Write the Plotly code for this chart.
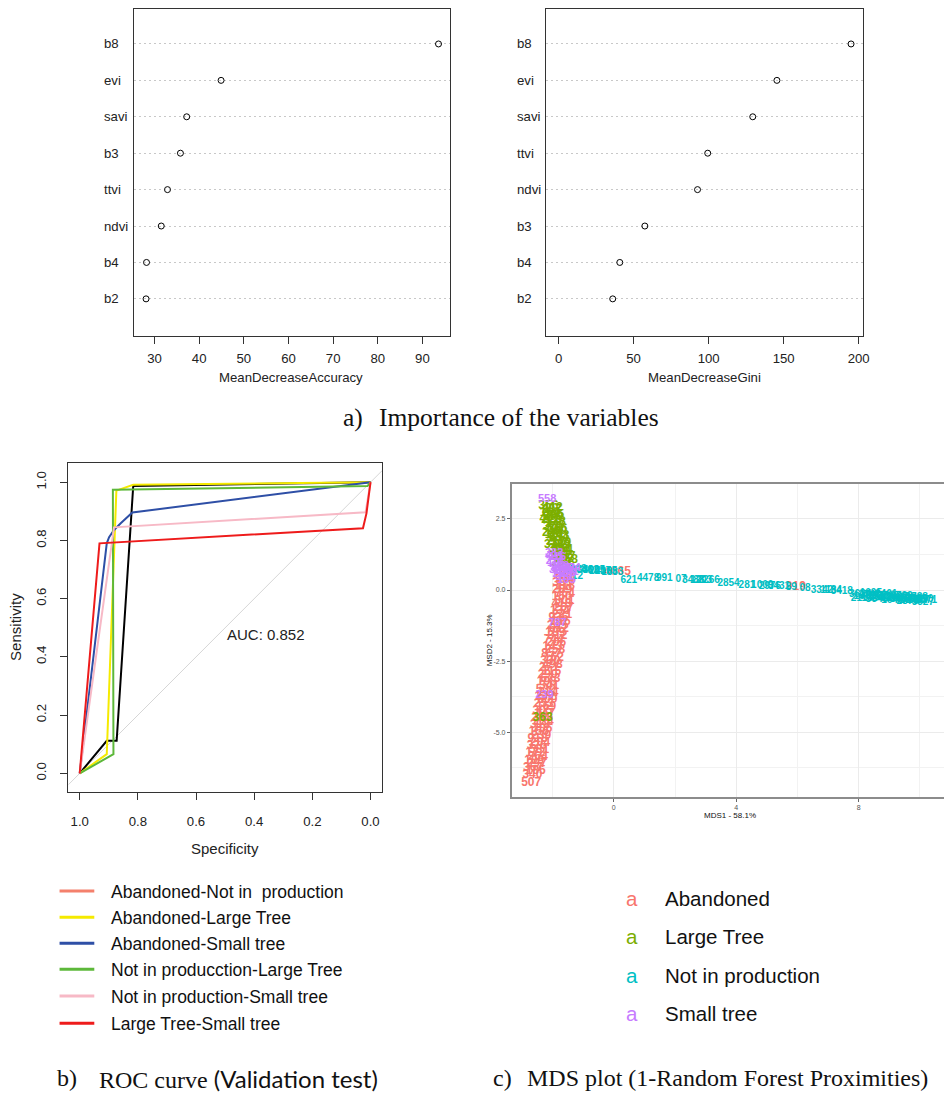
import plotly.graph_objects as go

W, H = 951, 1095
SANS = "Liberation Sans, Arial, sans-serif"
SERIF = "Liberation Serif, Times New Roman, serif"
CAL = "Lato, Carlito, sans-serif"


def px(x):
    return x / W


def py(y):
    return 1 - y / H


# ---------------- a) Importance of the variables ----------------
acc_vars = ["b2", "b4", "ndvi", "ttvi", "b3", "savi", "evi", "b8"]
acc_vals = [28.1, 28.2, 31.5, 32.9, 35.8, 37.2, 44.9, 93.6]
acc_ticks = [30, 40, 50, 60, 70, 80, 90]

gini_vars = ["b2", "b4", "b3", "ndvi", "ttvi", "savi", "evi", "b8"]
gini_vals = [36.1, 40.8, 57.5, 92.6, 99.4, 129.4, 145.5, 194.9]
gini_ticks = [0, 50, 100, 150, 200]

# ---------------- b) ROC curves ----------------
roc_labels = ["Abandoned-Not in\u00a0 production", "Abandoned-Large Tree", "Abandoned-Small tree",
              "Not in producction-Large Tree", "Not in production-Small tree", "Large Tree-Small tree"]
spec_ab_np = [1.0, 0.907, 0.873, 0.816, 0.0]
sens_ab_np = [0.0, 0.112, 0.112, 0.987, 1.0]
spec_ab_lt = [1.0, 0.907, 0.874, 0.816, 0.0]
sens_ab_lt = [0.0, 0.066, 0.971, 0.991, 1.0]
spec_ab_st = [1.0, 0.907, 0.899, 0.882, 0.859, 0.836, 0.819, 0.0]
sens_ab_st = [0.0, 0.790, 0.811, 0.836, 0.859, 0.882, 0.896, 1.0]
spec_np_lt = [1.0, 0.884, 0.886, 0.010, 0.0]
sens_np_lt = [0.0, 0.066, 0.974, 0.987, 1.0]
spec_np_st = [1.0, 0.882, 0.017, 0.0]
sens_np_st = [0.0, 0.845, 0.897, 1.0]
spec_lt_st = [1.0, 0.932, 0.026, 0.014, 0.0]
sens_lt_st = [0.0, 0.790, 0.842, 0.893, 1.0]
roc_curve_colors = ["#000000", "#F5EA00", "#2E4FA6", "#5DB83A", "#F7B9C6", "#EE1B1B"]
roc_legend_colors = ["#F4806C", "#F5EA00", "#2E4FA6", "#5DB83A", "#F7B9C6", "#EE1B1B"]
roc_ticks = [1.0, 0.8, 0.6, 0.4, 0.2, 0.0]
diag_spec = [1.04, -0.04]
auc_text = "AUC: 0.852"

# ---------------- c) MDS plot ----------------
mds_classes = ["Abandoned", "Large Tree", "Not in production", "Small tree"]
mds_colors = ["#F8766D", "#7CAE00", "#00BFC4", "#C77CFF"]

ab_x = [-1.67, -1.58, -1.68, -1.59, -1.69, -1.60, -1.70, -1.61, -1.71, -1.64,
        -1.76, -1.69, -1.81, -1.74, -1.86, -1.79, -1.91, -1.84, -1.96, -1.88,
        -2.00, -1.92, -2.04, -1.96, -2.08, -2.00, -2.12, -2.04, -2.16, -2.07,
        -2.19, -2.11, -2.22, -2.14, -2.26, -2.17, -2.29, -2.21, -2.33, -2.25,
        -2.37, -2.29, -2.41, -2.33, -2.45, -2.37, -2.49, -2.41, -2.52, -2.44,
        -2.56, -2.48, -2.60, -2.52, -2.64, -2.55, -2.66, -2.70, 0.12, 5.95]
ab_y = [0.500, 0.375, 0.250, 0.125, 0.000, -0.125, -0.250, -0.375, -0.500, -0.625,
        -0.750, -0.875, -1.000, -1.125, -1.250, -1.375, -1.500, -1.625, -1.750, -1.875,
        -2.000, -2.125, -2.250, -2.375, -2.500, -2.625, -2.750, -2.875, -3.000, -3.125,
        -3.250, -3.375, -3.500, -3.625, -3.750, -3.875, -4.000, -4.125, -4.250, -4.375,
        -4.500, -4.625, -4.750, -4.875, -5.000, -5.125, -5.250, -5.375, -5.500, -5.625,
        -5.750, -5.875, -6.000, -6.125, -6.250, -6.375, -6.500, -6.800, 0.64, 0.09]
ab_lab = ["102", "234", "305", "118", "289", "764", "150", "301", "418", "267",
          "134", "221", "936", "176", "245", "612", "189", "312", "744", "206",
          "143", "258", "857", "162", "330", "498", "271", "115", "290", "673",
          "198", "341", "532", "224", "137", "809", "253", "169", "305", "447",
          "281", "124", "318", "706", "156", "239", "918", "204", "326", "581",
          "172", "264", "109", "297", "367", "185", "340", "507", "4065", "919"]

lt_x = [-2.14, -2.03, -2.09, -1.98, -2.04, -1.91, -1.99, -1.86, -1.93, -1.80,
        -1.88, -1.75, -1.82, -1.69, -1.77, -1.64, -1.71, -1.50, -2.32,
        -2.00, -1.95, -1.90, -1.84, -1.78, -1.72, -1.66, -1.58, -2.10, -2.02, -1.95]
lt_y = [2.950, 2.825, 2.700, 2.575, 2.450, 2.325, 2.200, 2.075, 1.950, 1.825,
        1.700, 1.575, 1.450, 1.325, 1.200, 1.075, 0.950, 1.050, -4.51,
        2.90, 2.65, 2.40, 2.15, 1.90, 1.65, 1.40, 1.15, 2.50, 2.00, 1.60]
lt_lab = ["356", "287", "164", "309", "223", "147", "371", "260", "181", "334",
          "256", "139", "348", "201", "176", "322", "298", "158", "363",
          "412", "295", "178", "366", "243", "319", "154", "287", "401", "225", "338"]

np_x = [-1.25, -1.19, -1.05, -0.85, -0.65, -0.45, -0.25, -0.05,
        0.49, 1.12, 1.65, 2.20, 2.60, 2.85, 3.10, 3.75, 4.35, 4.85, 5.10, 5.40,
        5.80, 6.25, 6.80, 7.10, 7.45,
        8.05, 8.20, 8.35, 8.50, 8.65, 8.80, 8.95, 9.10, 9.25, 9.40, 9.55, 9.70, 9.85, 9.95, 10.08, 10.20,
        8.10, 8.60, 9.10, 9.60, 10.10, 8.40, 8.90, 9.40, 9.90]
np_y = [0.72, 0.47, 0.70, 0.68, 0.67, 0.64, 0.64, 0.62,
        0.33, 0.41, 0.40, 0.36, 0.34, 0.33, 0.32, 0.23, 0.17, 0.15, 0.14, 0.12,
        0.10, 0.06, 0.00, -0.02, -0.05,
        -0.17, -0.24, -0.19, -0.26, -0.22, -0.29, -0.24, -0.31, -0.27, -0.33, -0.29, -0.36, -0.32, -0.38, -0.35, -0.38,
        -0.30, -0.33, -0.37, -0.40, -0.43, -0.13, -0.17, -0.21, -0.25]
np_lab = ["3908", "12", "1746", "3312", "4065", "2217", "4065", "1883",
          "621", "4478", "991", "07", "3488", "1203", "2266", "2854", "281", "1009", "2976", "3431",
          "89", "08", "3342", "1184", "3418",
          "3624", "1975", "2748", "3861", "1532", "2409", "3790", "1266", "2987", "3655", "1814",
          "2543", "3903", "1377", "2690", "3571",
          "2118", "3546", "1649", "2873", "3327", "1095", "2461", "3782", "1538"]

st_x = [-2.18, -1.95, -1.85, -1.92, -1.75, -1.60, -1.50, -1.82, -1.45, -1.70,
        -1.62, -1.55, -1.84, -2.27, -1.38, -1.95, -1.88, -1.78, -1.68, -1.55]
st_y = [3.20, 1.30, 1.15, 1.00, 0.85, 0.75, 0.70, 0.70, 0.62, 0.55,
        0.45, 0.35, -1.17, -3.69, 0.78, 1.20, 0.95, 0.78, 0.65, 0.60]
st_lab = ["558", "382", "116", "274", "359", "128", "283", "394", "141", "262",
          "317", "105", "787", "239", "374", "421", "196", "352", "268", "133"]

mds_xticks_dtick = 4
mds_yticks = [-5.0, -2.5, 0.0, 2.5]
mds_yticktext = ["-5.0", "-2.5", "0.0", "2.5"]

fig = go.Figure()

# ---- dot charts
dot_marker = dict(symbol="circle-open", size=6, color="black", line=dict(width=1, color="black"))
fig.add_trace(go.Scatter(x=acc_vals, y=acc_vars, mode="markers", marker=dot_marker,
                         xaxis="x", yaxis="y", hoverinfo="skip"))
fig.add_trace(go.Scatter(x=gini_vals, y=gini_vars, mode="markers", marker=dot_marker,
                         xaxis="x2", yaxis="y2", hoverinfo="skip"))

# ---- ROC
fig.add_trace(go.Scatter(x=diag_spec, y=[1 - s for s in diag_spec], mode="lines",
                         line=dict(color="#D6D6D6", width=1), xaxis="x3", yaxis="y3", hoverinfo="skip"))
roc_specs = [spec_ab_np, spec_ab_lt, spec_ab_st, spec_np_lt, spec_np_st, spec_lt_st]
roc_senss = [sens_ab_np, sens_ab_lt, sens_ab_st, sens_np_lt, sens_np_st, sens_lt_st]
for sp, se, col, name in zip(roc_specs, roc_senss, roc_curve_colors, roc_labels):
    fig.add_trace(go.Scatter(x=sp, y=se, mode="lines", name=name, line=dict(color=col, width=2),
                             xaxis="x3", yaxis="y3", hoverinfo="skip"))

# ---- MDS
for xs, ys, labs, col, fs in [(ab_x, ab_y, ab_lab, mds_colors[0], 12),
                              (np_x, np_y, np_lab, mds_colors[2], 10),
                              (lt_x, lt_y, lt_lab, mds_colors[1], 12),
                              (st_x, st_y, st_lab, mds_colors[3], 11)]:
    fig.add_trace(go.Scatter(x=xs, y=ys, text=labs, mode="text",
                             textfont=dict(size=fs, color=col, family=SANS, weight="bold"),
                             xaxis="x4", yaxis="y4", hoverinfo="skip"))

box = dict(showline=True, mirror=True, linecolor="#333333", linewidth=1, zeroline=False)
tickf = dict(size=13.2, color="#222222", family=SANS)
dotgrid = dict(showgrid=True, griddash="2px,3px", gridcolor="#C8C8C8", gridwidth=1)

layout = dict(
    width=W, height=H, margin=dict(l=0, r=0, t=0, b=0),
    paper_bgcolor="white", plot_bgcolor="white", showlegend=False,
    xaxis=dict(domain=[px(135), px(453)], range=[25.4, 96.1], anchor="y", tickmode="array",
               tickvals=acc_ticks, ticks="outside", ticklen=7, tickcolor="#333333",
               showgrid=False, tickfont=tickf, ticklabelstandoff=3, **box),
    yaxis=dict(domain=[py(336), py(9)], type="category", categoryorder="array",
               categoryarray=acc_vars, range=[-1.02, 7.96], anchor="x", showticklabels=False,
               ticks="", **dotgrid, **box),
    xaxis2=dict(domain=[px(550), px(869)], range=[-8.4, 202.6], anchor="y2", tickmode="array",
                tickvals=gini_ticks, ticks="outside", ticklen=7, tickcolor="#333333",
                showgrid=False, tickfont=tickf, ticklabelstandoff=3, **box),
    yaxis2=dict(domain=[py(336), py(9)], type="category", categoryorder="array",
                categoryarray=gini_vars, range=[-1.02, 7.96], anchor="x2", showticklabels=False,
                ticks="", **dotgrid, **box),
    xaxis3=dict(domain=[px(69), px(385)], range=[1.0386, -0.04], anchor="y3", tickmode="array",
                tickvals=roc_ticks, tickformat=".1f", ticks="outside", ticklen=7, tickcolor="#333333",
                showgrid=False, tickfont=tickf, ticklabelstandoff=10, **box),
    yaxis3=dict(domain=[py(792), py(463)], range=[-0.064, 1.066], anchor="x3", tickmode="array",
                tickvals=roc_ticks, tickformat=".1f", tickangle=-90, ticks="outside", ticklen=7,
                tickcolor="#333333", showgrid=False, tickfont=tickf, ticklabelstandoff=9, **box),
    xaxis4=dict(domain=[px(515.7), 1.0], range=[-3.33, 10.79], anchor="y4", tick0=0,
                dtick=mds_xticks_dtick, ticks="outside", ticklen=3, tickcolor="#666666",
                showline=True, mirror=True, linecolor="#8C8C8C", linewidth=2, zeroline=False,
                showgrid=True, gridcolor="#EBEBEB", gridwidth=1,
                minor=dict(tickmode="linear", tick0=0, dtick=2, showgrid=True,
                           gridcolor="#F2F2F2", gridwidth=0.6, ticks=""),
                tickfont=dict(size=7, color="#555555", family=SANS)),
    yaxis4=dict(domain=[py(796.7), py(484)], range=[-7.27, 3.73], anchor="x4", tickmode="array",
                tickvals=mds_yticks, ticktext=mds_yticktext, ticks="outside", ticklen=3,
                tickcolor="#666666", showline=True, mirror=False, linecolor="#8C8C8C", linewidth=2,
                zeroline=False, showgrid=True, gridcolor="#EBEBEB", gridwidth=1,
                minor=dict(tickmode="linear", tick0=0, dtick=1.25, showgrid=True,
                           gridcolor="#F2F2F2", gridwidth=0.6, ticks=""),
                tickfont=dict(size=7, color="#555555", family=SANS)),
)

ann = []
lab_font = dict(size=13.2, color="#222222", family=SANS)
for v in acc_vars:
    ann.append(dict(text=v, x=px(103), xref="paper", y=v, yref="y", xanchor="left",
                    yanchor="middle", showarrow=False, font=lab_font))
for v in gini_vars:
    ann.append(dict(text=v, x=px(519), xref="paper", y=v, yref="y2", xanchor="left",
                    yanchor="middle", showarrow=False, font=lab_font))


def txt(text, x, y, size, family=SANS, color="#222222", xanchor="center", angle=0):
    return dict(text=text, x=px(x), y=py(y), xref="paper", yref="paper", xanchor=xanchor,
                yanchor="middle", showarrow=False, textangle=angle,
                font=dict(size=size, color=color, family=family))


ann.append(txt("MeanDecreaseAccuracy", 293, 377, 13.2))
ann.append(txt("MeanDecreaseGini", 709.5, 377, 13.2))
ann.append(txt("a)", 344, 417, 25.5, SERIF, "#111111", "left"))
ann.append(txt("Importance of the variables", 380, 417, 25.5, SERIF, "#111111", "left"))

ann.append(txt("Specificity", 227, 848, 15))
ann.append(txt("Sensitivity", 15, 627, 15, angle=-90))
ann.append(dict(text=auc_text, x=0.5, y=0.478, xref="x3", yref="y3", xanchor="left",
                yanchor="middle", showarrow=False, font=dict(size=15, color="#222222", family=SANS)))

ann.append(txt("MDS1 - 58.1%", 735, 815, 8, color="#111111"))
ann.append(txt("MSD2 - 15.3%", 493, 640, 8, color="#111111", angle=-90))

# ROC legend
roc_leg_rows = [891, 917.3, 943.3, 969.3, 996, 1023.3]
shapes = []
for yy, col, name in zip(roc_leg_rows, roc_legend_colors, roc_labels):
    shapes.append(dict(type="line", xref="paper", yref="paper", x0=px(60), x1=px(95),
                       y0=py(yy), y1=py(yy), line=dict(color=col, width=3)))
    ann.append(txt(name, 110, yy + 1, 17.5, color="#111111", xanchor="left"))

# MDS legend
mds_leg_rows = [898.3, 936.7, 975, 1013.3]
for yy, col, name in zip(mds_leg_rows, mds_colors, mds_classes):
    ann.append(txt("a", 636.7, yy, 20.5, color=col))
    ann.append(txt(name, 668, yy, 20.5, color="#111111", xanchor="left"))

# captions
ann.append(txt("b)", 55, 1078, 24, SERIF, "#111111", "left"))
ann.append(txt("ROC curve <span style='font-family:Lato, Carlito, sans-serif'>(Validation test)</span>",
               98, 1078, 24, SERIF, "#111111", "left"))
ann.append(txt("c)", 495, 1078, 24, SERIF, "#111111", "left"))
ann.append(txt("MDS plot (1-Random Forest Proximities)", 529, 1078, 24, SERIF, "#111111", "left"))

layout["annotations"] = ann
layout["shapes"] = shapes
fig.update_layout(**layout)
fig.write_html(
    "out.html",
    config={"displayModeBar": False},
    post_script="document.body.style.margin='0';document.body.style.padding='0';"
                "document.documentElement.style.overflow='hidden';",
)
